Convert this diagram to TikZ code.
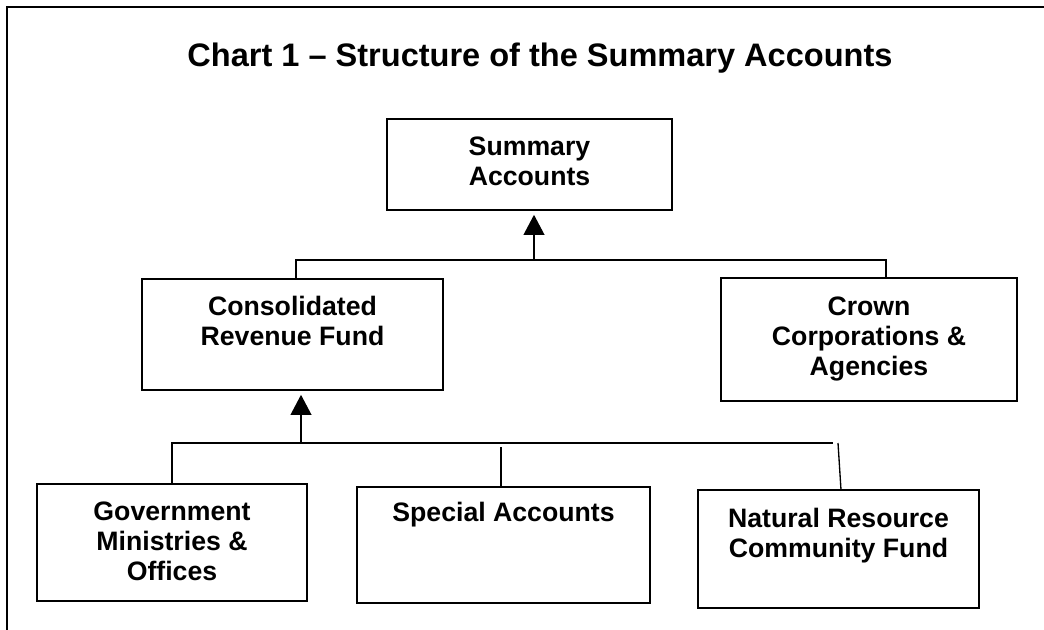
\documentclass[tikz,border=0pt]{standalone}
\usepackage{fontspec}
\setmainfont{Liberation Sans}
\usetikzlibrary{arrows.meta,fit}

\begin{document}
\begin{tikzpicture}[x=0.75pt, y=-0.75pt,
    frame/.style={line width=1.3pt, black},
    box/.style={draw, line width=1.2pt, inner sep=0pt},
    lbl/.style={anchor=base, align=center, inner sep=0pt,
        font=\fontsize{20}{22.5}\selectfont\bfseries},
    link/.style={line width=1pt},
    uparrow/.style={line width=1.2pt, shorten >=3pt, -{Triangle[length=15pt,width=15.5pt]}}]
\useasboundingbox (0,0) rectangle (1044,630);

% Outer frame (top and left edges only)
\draw[frame] (1044,7) -- (7,7) -- (7,630);

% Title
\node[font=\fontsize{24.4}{28}\selectfont\bfseries] (title) at (540,58) {Chart 1 -- Structure of the Summary Accounts};

% Boxes
\node[box, fit={(387,119) (672,210)}] (summ) {};
\node[box, fit={(142,279) (443,390)}] (cons) {};
\node[box, fit={(721,278) (1017,401)}] (crown) {};
\node[box, fit={(37,484) (307,601)}] (gov) {};
\node[box, fit={(357,487) (650,603)}] (spec) {};
\node[box, fit={(698,490) (979,608)}] (natres) {};

% Labels (base = baseline of the last line)
\node[lbl] (summtxt) at (529.5,186) {Summary\\Accounts};
\node[lbl] (constxt) at (292.5,345) {Consolidated\\Revenue Fund};
\node[lbl] (crowntxt) at (869,375) {Crown\\Corporations \&\\Agencies};
\node[lbl] (govtxt) at (172,580) {Government\\Ministries \&\\Offices};
\node[lbl] (spectxt) at (503.5,521) {Special Accounts};
\node[lbl] (natrestxt) at (838.5,557) {Natural Resource\\Community Fund};

% Upper level connectors
\coordinate (ubarL) at (296,260);
\coordinate (ubarR) at (886,260);
\coordinate (uarr) at (534,260);
\draw[link] (cons.north -| ubarL) -- (ubarL) -- (ubarR) -- (ubarR |- crown.north);
\draw[uparrow] (uarr) -- (uarr |- summ.south);

% Lower level connectors
\coordinate (lbarL) at (172,443);
\coordinate (lbarR) at (833,443);
\coordinate (larr) at (301,443);
\coordinate (spectop) at (501,447);
\coordinate (natrestop) at (838,443);
\draw[link] (gov.north -| lbarL) -- (lbarL) -- (lbarR);
\draw[link] (spectop) -- (spectop |- spec.north);
\draw[link] (natrestop) -- (841,490);
\draw[uparrow] (larr) -- (larr |- cons.south);
\end{tikzpicture}
\end{document}
